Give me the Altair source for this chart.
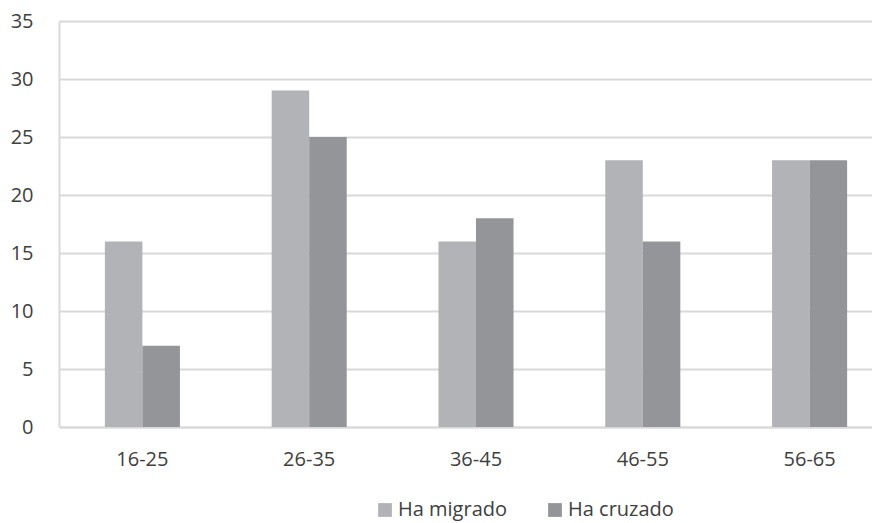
import altair as alt
import pandas as pd

categories = ["16-25", "26-35", "36-45", "46-55", "56-65"]
series = ["Ha migrado", "Ha cruzado"]
migrado = [16, 29, 16, 23, 23]
cruzado = [7, 25, 18, 16, 23]
colors = ["#b2b3b7", "#949598"]

rows = []
for c, m, k in zip(categories, migrado, cruzado):
    rows.append({"grupo": c, "serie": series[0], "valor": m})
    rows.append({"grupo": c, "serie": series[1], "valor": k})
df = pd.DataFrame(rows)

font = "Open Sans"
txt = "#404040"

chart = alt.Chart(df).mark_bar().encode(
    x=alt.X("grupo:N", sort=categories, title=None,
            scale=alt.Scale(range=[0, 834], paddingInner=0.55, paddingOuter=0.275),
            axis=alt.Axis(labelAngle=0, ticks=False, domain=True, domainColor="#d9d9d9",
                          domainWidth=2, labelPadding=22, labelFontSize=20,
                          labelColor=txt, labelFont=font)),
    xOffset=alt.XOffset("serie:N", sort=series),
    y=alt.Y("valor:Q", title=None,
            scale=alt.Scale(domain=[0, 35]),
            axis=alt.Axis(values=[0, 5, 10, 15, 20, 25, 30, 35], ticks=False,
                          domainColor="#d9d9d9", domainWidth=2,
                          grid=True, gridColor="#d9d9d9", gridWidth=2,
                          labelPadding=26, labelFontSize=20, labelColor=txt,
                          labelFont=font)),
    color=alt.Color("serie:N", sort=series, title=None,
                    scale=alt.Scale(domain=series, range=colors),
                    legend=alt.Legend(orient="none", legendX=316, legendY=479,
                                      direction="horizontal",
                                      symbolType="square", symbolSize=190,
                                      symbolStrokeWidth=0, labelFontSize=20,
                                      labelColor=txt, labelFont=font,
                                      columnPadding=37, labelOffset=3)),
).properties(
    width=813, height=406,
    autosize=alt.AutoSizeParams(type="none"),
    padding={"left": 51, "top": 13, "right": 0, "bottom": 96},
).configure_view(stroke=None)

chart.save("out.html", embed_options={"renderer": "svg", "actions": False})
